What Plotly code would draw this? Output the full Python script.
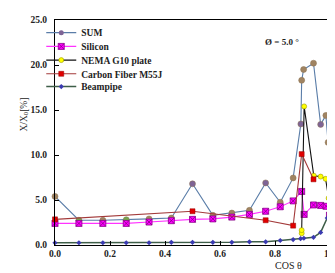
import plotly.graph_objects as go

# ---- data ----
sum_x = [0.0, 0.087, 0.174, 0.259, 0.342, 0.423, 0.5, 0.574, 0.643, 0.707, 0.766, 0.819, 0.866, 0.894, 0.897, 0.904, 0.940, 0.966, 0.985, 0.993]
sum_y = [5.4, 2.75, 2.75, 2.8, 2.9, 3.0, 6.8, 3.3, 3.55, 3.85, 6.9, 4.75, 7.45, 13.45, 18.3, 19.5, 20.2, 13.4, 14.4, 11.4]
sum_marker_colors = ["#A08462", "#74A84E", "#A08462", "#74A84E", "#A08462", "#A08462", "#7E6496", "#A08462",
                     "#A08462", "#A08462", "#7E6496", "#A08462", "#A08462", "#7E6496", "#A08462", "#A08462",
                     "#A08462", "#7E6496", "#A08462", "#A08462"]

si_x = [0.0, 0.087, 0.174, 0.259, 0.342, 0.423, 0.5, 0.574, 0.643, 0.707, 0.766, 0.819, 0.866, 0.897, 0.906, 0.940, 0.966, 0.986, 0.998]
si_y = [2.4, 2.4, 2.4, 2.4, 2.55, 2.7, 2.85, 2.9, 3.1, 3.4, 3.75, 4.25, 4.9, 5.95, 3.4, 4.45, 4.4, 4.3, 3.3]

g10_x = [0.897, 0.897, 0.906, 0.941, 0.966, 0.984, 0.995]
g10_y = [1.3, 1.65, 15.4, 7.7, 7.6, 7.35, 5.2]

cf_x = [0.0, 0.5, 0.766, 0.866, 0.897, 0.940]
cf_y = [2.85, 3.75, 2.75, 2.15, 10.1, 7.3]

bp_x = [0.0, 0.087, 0.174, 0.259, 0.342, 0.423, 0.5, 0.574, 0.643, 0.707, 0.766, 0.819, 0.866, 0.893, 0.905, 0.940, 0.966, 0.990, 0.998]
bp_y = [0.25, 0.25, 0.25, 0.25, 0.25, 0.3, 0.3, 0.3, 0.3, 0.35, 0.35, 0.5, 0.6, 0.7, 0.75, 0.85, 1.4, 3.0, 3.3]

x_ticks = [0.0, 0.2, 0.4, 0.6, 0.8, 1.0]
y_ticks = [0.0, 5.0, 10.0, 15.0, 20.0, 25.0]

FONT = "Liberation Serif"
TXT = "#222222"

fig = go.Figure()

# legend-only entry for SUM
fig.add_trace(go.Scatter(x=[None], y=[None], name="<b>SUM</b>", mode="lines+markers", legend="legend",
                         line=dict(color="#5A7DA8", width=1.2),
                         marker=dict(symbol="circle", size=5, color="#7E6496")))
fig.add_trace(go.Scatter(x=sum_x, y=sum_y, name="SUM", mode="lines+markers", showlegend=False,
                         line=dict(color="#5A7DA8", width=1.1),
                         marker=dict(symbol="circle", size=6, color=sum_marker_colors,
                                     line=dict(color="#8A7050", width=0.5)),
                         cliponaxis=False))
fig.add_trace(go.Scatter(x=si_x, y=si_y, name="<b>Silicon</b>", mode="lines+markers", legend="legend2",
                         line=dict(color="#FF33FF", width=1.1),
                         marker=dict(symbol="square-x", size=6, color="#FF00FF",
                                     line=dict(color="#880088", width=0.8)),
                         cliponaxis=False))
fig.add_trace(go.Scatter(x=g10_x, y=g10_y, name="<b>NEMA G10 plate</b>", mode="lines+markers", legend="legend3",
                         line=dict(color="#111111", width=1.1),
                         marker=dict(symbol="circle", size=5, color="#FFFF00",
                                     line=dict(color="#999900", width=0.6)),
                         cliponaxis=False))
fig.add_trace(go.Scatter(x=cf_x, y=cf_y, name="<b>Carbon Fiber M55J</b>", mode="lines+markers", legend="legend4",
                         line=dict(color="#A33A3A", width=1.1),
                         marker=dict(symbol="square", size=5, color="#E00000",
                                     line=dict(color="#990000", width=0.5)),
                         cliponaxis=False))
fig.add_trace(go.Scatter(x=bp_x, y=bp_y, name="<b>Beampipe</b>", mode="lines+markers", legend="legend5",
                         line=dict(color="#3E5E48", width=1.5),
                         marker=dict(symbol="diamond", size=4, color="#3A3AB0"),
                         cliponaxis=False))

axis_common = dict(showline=True, linecolor="black", linewidth=1, mirror=True,
                   ticks="inside", ticklen=4, tickcolor="black", showgrid=False, zeroline=False,
                   tickfont=dict(family=FONT, size=9.5, color=TXT))

fig.update_xaxes(range=[0, 1.0], tickvals=x_ticks, ticktext=[f"<b>{v:.1f}</b>" for v in x_ticks], **axis_common)
fig.update_yaxes(range=[0, 25], tickvals=y_ticks, ticktext=[f"<b>{v:.1f}</b>" for v in y_ticks],
                 ticklabelstandoff=5, **axis_common)

legend_rows = [0.9435, 0.8826, 0.8217, 0.7609, 0.7043]
legend_cfg = {}
for i, yy in enumerate(legend_rows):
    key = "legend" if i == 0 else f"legend{i+1}"
    legend_cfg[key] = dict(x=-0.05, y=yy, xanchor="left", yanchor="middle", bgcolor="rgba(0,0,0,0)",
                           font=dict(family=FONT, size=9.5, color=TXT), itemwidth=30)

fig.update_layout(
    width=335, height=273,
    margin=dict(l=47, r=9, t=7, b=36),
    paper_bgcolor="white", plot_bgcolor="white",
    font=dict(family=FONT, size=9.5, color=TXT),
    annotations=[
        dict(text="<b>Ø = 5.0 °</b>", x=0.896, y=0.935, xref="paper", yref="paper",
             showarrow=False, font=dict(family=FONT, size=9, color=TXT)),
        dict(text="COS θ", x=0.905, y=-0.126, xref="paper", yref="paper",
             showarrow=False, font=dict(family=FONT, size=10, color=TXT)),
        dict(text="X/X<sub>0</sub>[%]", x=-0.14, y=0.58, xref="paper", yref="paper",
             showarrow=False, textangle=-90, font=dict(family=FONT, size=9.5, color=TXT)),
    ],
    **legend_cfg,
)

fig.write_html("out.html")
